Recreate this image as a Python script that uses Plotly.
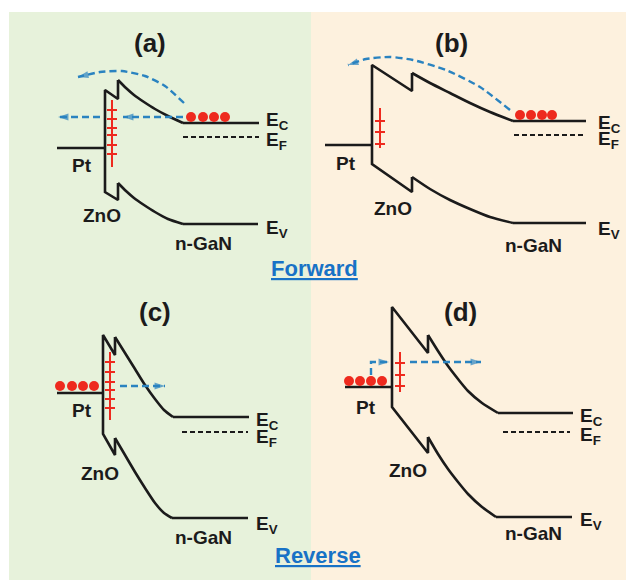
import plotly.graph_objects as go

W, H = 626, 580
BLACK = "#1b1b1b"
RED = "#ee2a1e"
BLUE = "#2a83c0"
TXTBLUE = "#1872c6"
GREEN_BG = "#e7f2db"
ORANGE_BG = "#fdf1de"
FONT = "Liberation Sans, Arial, sans-serif"

# ---------------- data (diagram coordinates, pixel space) ----------------
panel_titles = ["(a)", "(b)", "(c)", "(d)"]
title_pos = [(150, 43), (451, 43), (155, 312), (460, 312)]
group_labels = ["Forward", "Reverse"]
group_pos = [(314, 268), (318, 555)]

# Pt metal levels
pt_x = [[57, 105], [325, 372], [57, 103], [345, 392]]
pt_y = [[148, 148], [145, 145], [393, 393], [387, 387]]

# ZnO / GaN conduction band: vertical edge + spike (first 4 pts),
# bent band (spline, from index 3 to -2), flat n-GaN band (last 2 pts)
cb_x = [[105, 105, 118, 118, 126, 134, 144, 155, 168, 183, 259],
        [372, 372, 412, 412, 430, 450, 470, 490, 513, 586],
        [103, 103, 115, 115, 125, 135, 145, 155, 164, 173, 249],
        [392, 392, 428, 428, 438, 448, 458, 468, 482, 498, 573]]
cb_y = [[148, 90, 99, 80, 88, 95, 102, 109, 116, 123, 123],
        [145, 65, 91, 73, 83, 93, 103, 112, 121, 121],
        [393, 335, 355, 337, 353, 369, 385, 399, 410, 417, 417],
        [387, 307, 353, 335, 351, 366, 379, 391, 403, 413, 413]]
# valence band
vb_x = [[105, 105, 118, 118, 126, 134, 144, 155, 168, 183, 258],
        [372, 372, 412, 412, 430, 450, 470, 490, 513, 586],
        [103, 103, 115, 115, 125, 135, 145, 155, 164, 172, 248],
        [392, 392, 428, 428, 438, 448, 458, 468, 482, 496, 572]]
vb_y = [[148, 192, 200, 183, 191, 198, 205, 212, 219, 224, 224],
        [145, 164, 192, 177, 189, 200, 209, 217, 223, 223],
        [393, 434, 455, 438, 455, 472, 488, 503, 513, 518, 518],
        [387, 407, 453, 437, 454, 469, 482, 494, 507, 517, 517]]
# Fermi level of n-GaN
ef_x = [[183, 259], [514, 586], [182, 248], [503, 570]]
ef_y = [137, 135, 432, 432]

# interface trap states
trap_x = [112, 380, 110, 400]
trap_span = [(100, 167), (108, 148), (352, 420), (352, 392)]
trap_levels = [[110, 119, 128, 135, 145, 154],
               [121, 132, 144],
               [362, 372, 382, 390, 399, 408],
               [363, 375, 386]]

# electrons
dots_x = [[191, 203, 214, 225], [520, 531, 542, 552],
          [60, 72, 83, 94], [349, 360, 371, 382]]
dots_y = [117, 115, 386, 381]

# electron transport paths (dashed arrows)
arrows = [
    ([183, 123], [117, 117]),
    ([100, 58], [117, 117]),
    ([184, 165, 145, 122, 100, 78], [103, 86, 76, 71, 72, 77]),
    ([510, 480, 446, 413, 390, 366, 348], [110, 87, 70, 60, 57, 59, 65]),
    ([120, 165], [386, 386]),
    ([371, 371, 389], [375, 362, 362]),
    ([410, 481], [362, 362]),
]

# region labels
pt_lab = [(82, 165), (346, 163), (82, 410), (366, 407)]
zno_lab = [(102, 215), (393, 208), (100, 473), (408, 470)]
gan_lab = [(203, 243), (533, 245), (203, 537), (533, 533)]
ec_lab = [(264, 121), (596, 124), (254, 421), (578, 417)]
ef_lab = [(264, 141), (596, 140), (254, 438), (578, 436)]
ev_lab = [(264, 229), (596, 230), (254, 525), (578, 521)]

# ---------------- figure ----------------
fig = go.Figure()

def line(xs, ys, color=BLACK, width=2.6, dash=None, shape="linear"):
    fig.add_trace(go.Scatter(x=xs, y=ys, mode="lines", hoverinfo="skip",
                             line=dict(color=color, width=width, dash=dash, shape=shape,
                                       smoothing=0.6)))

for i in range(4):
    line(pt_x[i], pt_y[i])
    for bx, by in ((cb_x[i], cb_y[i]), (vb_x[i], vb_y[i])):
        line(bx[:4], by[:4])
        line(bx[3:-1], by[3:-1], shape="spline")
        line(bx[-2:], by[-2:])
    line(ef_x[i], [ef_y[i], ef_y[i]], width=2, dash="5px,3px")
    # traps
    line([trap_x[i], trap_x[i]], list(trap_span[i]), color=RED, width=2)
    for ly in trap_levels[i]:
        line([trap_x[i] - 5, trap_x[i] + 5], [ly, ly], color=RED, width=2)
    fig.add_trace(go.Scatter(x=dots_x[i], y=[dots_y[i]] * 4, mode="markers", hoverinfo="skip",
                             marker=dict(color=RED, size=10, line=dict(width=0))))

for ax_, ay_ in arrows:
    curved = len(ax_) > 3
    line(ax_, ay_, color=BLUE, width=2.4, dash="7px,4px", shape="spline" if curved else "linear")
    fig.add_trace(go.Scatter(x=ax_[-2:], y=ay_[-2:], mode="markers", hoverinfo="skip",
                             marker=dict(symbol="arrow", angleref="previous", size=[0, 11],
                                         color=BLUE, line=dict(width=0))))

ann = []
def txt(x, y, s, size=19, color=BLACK, xanchor="center"):
    ann.append(dict(x=x, y=y, xref="x", yref="y", text=s, showarrow=False,
                    xanchor=xanchor, yanchor="middle",
                    font=dict(family=FONT, size=size, color=color)))

for i in range(4):
    txt(*title_pos[i], "<b>%s</b>" % panel_titles[i], size=26)
    txt(*pt_lab[i], "<b>Pt</b>")
    txt(*zno_lab[i], "<b>ZnO</b>")
    txt(*gan_lab[i], "<b>n-GaN</b>")
    txt(*ec_lab[i], "<b>E<sub>C</sub></b>", size=19, xanchor="left")
    txt(*ef_lab[i], "<b>E<sub>F</sub></b>", size=19, xanchor="left")
    txt(*ev_lab[i], "<b>E<sub>V</sub></b>", size=19, xanchor="left")
for (gx, gy), g in zip(group_pos, group_labels):
    txt(gx, gy, "<b><u>%s</u></b>" % g, size=22, color=TXTBLUE)

shapes = [
    dict(type="rect", xref="x", yref="y", x0=9, x1=311, y0=12, y1=580,
         fillcolor=GREEN_BG, line=dict(width=0), layer="below"),
    dict(type="rect", xref="x", yref="y", x0=311, x1=626, y0=12, y1=580,
         fillcolor=ORANGE_BG, line=dict(width=0), layer="below"),
]

fig.update_layout(
    width=W, height=H, margin=dict(l=0, r=0, t=0, b=0),
    paper_bgcolor="white", plot_bgcolor="white", showlegend=False,
    xaxis=dict(range=[0, W], visible=False, fixedrange=True),
    yaxis=dict(range=[H, 0], visible=False, fixedrange=True),
    annotations=ann, shapes=shapes,
)
fig.write_html("out.html")
